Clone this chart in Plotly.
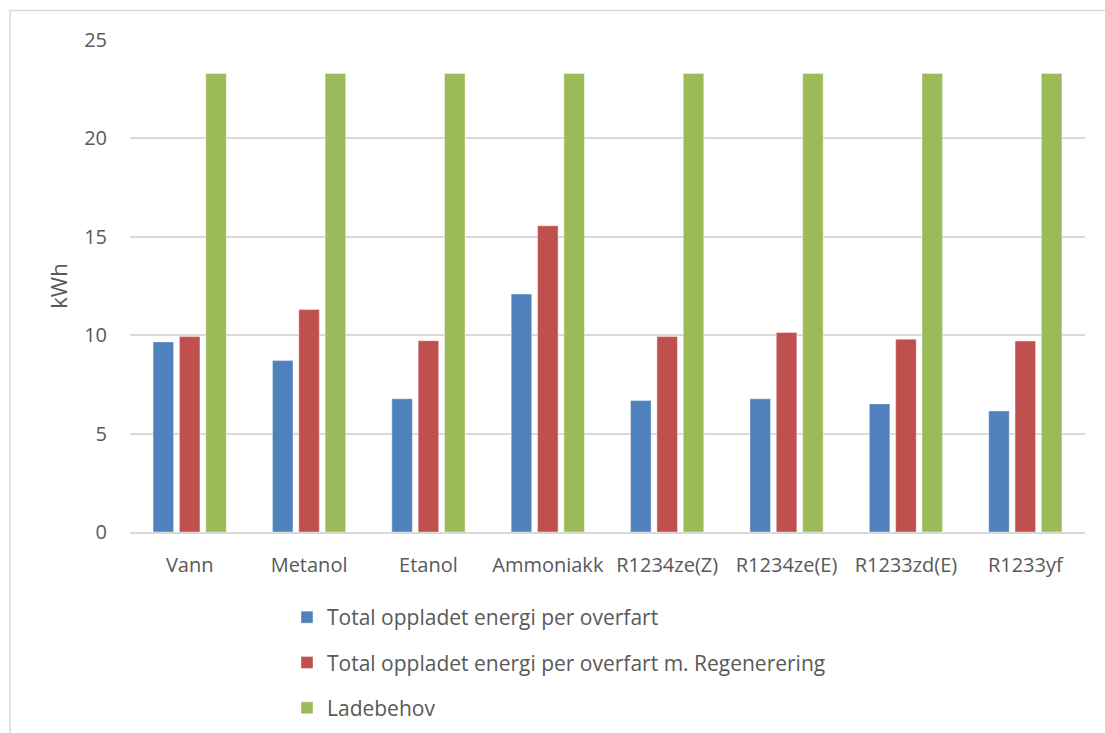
import plotly.graph_objects as go

# Working fluids compared
categories = ["Vann", "Metanol", "Etanol", "Ammoniakk",
              "R1234ze(Z)", "R1234ze(E)", "R1233zd(E)", "R1233yf"]

# Energy per crossing, kWh
opplade = [9.66, 8.71, 6.77, 12.09, 6.68, 6.77, 6.51, 6.15]
opplade_regen = [9.93, 11.30, 9.72, 15.56, 9.93, 10.14, 9.80, 9.70]
ladebehov = [23.3, 23.3, 23.3, 23.3, 23.3, 23.3, 23.3, 23.3]

series_names = [
    "Total oppladet energi per overfart",
    "Total oppladet energi per overfart m. Regenerering",
    "Ladebehov",
]
colors = ["#4f81bd", "#c0504d", "#9bbb59"]

y_ticks = [0, 5, 10, 15, 20, 25]

FONT = "Open Sans"
TEXT = "#595959"
GRID = "#d9d9d9"
FS = 20

fig = go.Figure()
for i, (name, vals, col) in enumerate(zip(series_names,
                                          [opplade, opplade_regen, ladebehov],
                                          colors)):
    fig.add_trace(go.Bar(
        x=categories, y=vals, name=name, legendgroup=str(i),
        marker=dict(color=col, line=dict(color="rgba(255,255,255,0.5)", width=0.8)),
    ))

W, H = 1105, 733
ml, mr, mt, mb = 130, 20, 40, 201
pw, ph = W - ml - mr, H - mt - mb

def px_x(p):
    return (p - ml) / pw

def px_y(p):
    return (H - mb - p) / ph

fig.update_layout(
    width=W, height=H,
    margin=dict(l=ml, r=mr, t=mt, b=mb, autoexpand=False),
    paper_bgcolor="white", plot_bgcolor="white",
    barmode="group", bargap=0.338, bargroupgap=0.22,
    font=dict(family=FONT, color=TEXT, size=FS),
    showlegend=True,
    legend=dict(
        orientation="v", x=px_x(287), y=px_y(597), xanchor="left", yanchor="top",
        font=dict(family=FONT, size=21, color=TEXT),
        tracegroupgap=15, itemwidth=30, bgcolor="rgba(0,0,0,0)",
    ),
    xaxis=dict(
        showgrid=False, showline=True, linecolor=GRID, linewidth=1.5,
        ticks="", tickfont=dict(size=FS, color=TEXT), ticklabelstandoff=14,
        automargin=False,
    ),
    yaxis=dict(
        range=[0, 25], tickvals=y_ticks, showgrid=True, gridcolor=GRID, gridwidth=1.5,
        zeroline=False, showline=False, ticks="",
        tickfont=dict(size=FS, color=TEXT), ticklabelstandoff=22,
        title=dict(text="kWh", font=dict(size=22, color=TEXT), standoff=10),
        automargin=False,
    ),
    shapes=[dict(
        type="rect", xref="paper", yref="paper",
        x0=px_x(10), x1=px_x(1120), y0=px_y(750), y1=px_y(10.5),
        line=dict(color=GRID, width=1.5), fillcolor="rgba(0,0,0,0)", layer="below",
    )],
)

fig.write_html("out.html")
